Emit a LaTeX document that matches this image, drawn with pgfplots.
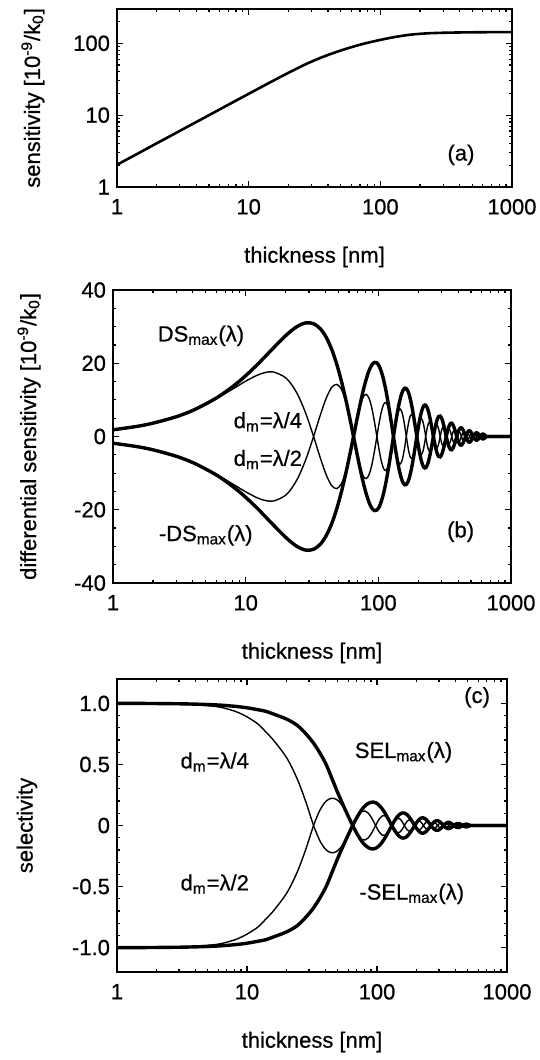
\documentclass[border=0pt]{standalone}
\usepackage{fontspec}
\setmainfont{Liberation Sans}[FakeBold=0.6]
\usepackage{pgfplots}
\pgfplotsset{compat=1.18}
\usepackage{pgfplotstable}

\newcommand\fs{\fontsize{11}{13.2}\selectfont}

% (a) sensitivity vs thickness
\pgfplotstableread{
d S
1 2.04
1.41 2.86
1.9 3.85
2.56 5.16
3.45 6.93
4.65 9.3
6.27 12.5
8.46 16.8
11.4 22.5
15.4 30.2
20.7 40
28 52.5
37.7 66
50.8 80
68.6 94.5
92.5 108
125 121
168 131.5
227 137.5
300 140
413 141.5
600 142.5
1000 143
}\tabA

% (b) DSmax (T) and d_m = lambda/4 (U); the mirrored curves are -T and -U
\pgfplotstableread{
d T U
1 1.830 1.879
1.5 2.736 2.804
2 3.633 3.717
3 5.403 5.495
4.0625 7.245 7.303
6 10.484 10.325
8.125 13.836 13.138
10 16.596 15.103
12.1875 19.557 16.713
14 21.796 17.455
16.25 24.235 17.613
20.3125 27.745 15.843
24.375 30.016 11.806
28.4375 31.024 6.221
32.5 30.798 0
36.5625 29.410 -5.897
40.625 26.973 -10.609
44.6875 23.635 -13.495
48.75 19.569 -14.222
52.8125 14.970 -12.793
56.875 10.040 -9.533
60.9375 4.983 -5.023
65 0 0
69.0625 -4.724 4.762
73.125 -9.022 8.567
77.1875 -12.752 10.897
81.25 -15.802 11.484
85.3125 -18.091 10.330
89.375 -19.572 7.698
93.4375 -20.229 4.056
97.5 -20.081 0
101.5625 -19.176 -3.845
105.625 -17.587 -6.918
109.6875 -15.410 -8.800
113.75 -12.760 -9.273
117.8125 -9.761 -8.342
121.875 -6.546 -6.216
125.9375 -3.249 -3.275
130 0 0
134.0625 3.080 3.105
138.125 5.883 5.586
142.1875 8.315 7.106
146.25 10.303 7.488
150.3125 11.796 6.736
154.375 12.762 5.020
158.4375 13.191 2.645
162.5 13.094 0
166.5625 12.504 -2.507
170.625 11.468 -4.511
174.6875 10.048 -5.737
178.75 8.320 -6.047
182.8125 6.365 -5.439
186.875 4.268 -4.053
190.9375 2.119 -2.136
195 0 0
199.0625 -2.008 2.024
203.125 -3.836 3.642
207.1875 -5.422 4.633
211.25 -6.718 4.883
215.3125 -7.691 4.392
219.375 -8.321 3.273
223.4375 -8.601 1.724
227.5 -8.538 0
231.5625 -8.153 -1.635
235.625 -7.477 -2.941
239.6875 -6.552 -3.741
243.75 -5.425 -3.943
247.8125 -4.150 -3.547
251.875 -2.783 -2.642
255.9375 -1.381 -1.393
260 0 0
268.125 2.501 2.375
276.25 4.381 3.184
284.375 5.426 2.134
292.5 5.567 0
300.625 4.875 -1.918
308.75 3.538 -2.571
316.875 1.815 -1.723
325 0 0
333.125 -1.631 1.549
341.25 -2.857 2.076
349.375 -3.538 1.392
357.5 -3.630 0
365.625 -3.179 -1.251
373.75 -2.307 -1.676
381.875 -1.183 -1.124
390 0 0
398.125 1.063 1.010
406.25 1.863 1.354
414.375 2.307 0.907
422.5 2.367 0
430.625 2.073 -0.815
438.75 1.504 -1.093
446.875 0.772 -0.733
455 0 0
463.125 -0.693 0.658
471.25 -1.215 0.883
479.375 -1.505 0.592
487.5 -1.544 0
495.625 -1.352 -0.532
503.75 -0.981 -0.713
511.875 -0.503 -0.478
520 0 0
528.125 0.452 0.429
536.25 0.793 0.576
544.375 0.981 0.386
552.5 1.007 0
560.625 0.881 -0.347
568.75 0.640 -0.465
576.875 0.328 -0.312
585 0 0
593.125 -0.295 0.280
601.25 -0.517 0.376
609.375 -0.640 0.252
617.5 -0.656 0
625.625 -0.575 -0.226
633.75 -0.417 -0.303
641.875 -0.214 -0.203
650 0 0
750 0 0
1000 0 0
}\tabB

% (c) SELmax (ST) and d_m = lambda/4 (SU); mirrored curves are -ST and -SU
\pgfplotstableread{
d ST SU
1 1.000 1.000
1.5 1.000 0.999
2 0.999 0.998
3 0.997 0.994
4.0625 0.994 0.988
6 0.987 0.972
8.125 0.976 0.935
10 0.964 0.89
12.1875 0.948 0.83
14 0.935 0.765
16.25 0.91 0.69
20.3125 0.87 0.55
24.375 0.82 0.38
28.4375 0.75 0.19
32.5 0.675 0
36.5625 0.59 -0.13
40.625 0.50 -0.20
44.6875 0.394 -0.223
48.75 0.294 -0.214
52.8125 0.208 -0.178
56.875 0.131 -0.1246
60.9375 0.062 -0.0624
65 0 0
69.0625 -0.054 0.0544
73.125 -0.0995 0.0945
77.1875 -0.136 0.1163
81.25 -0.162 0.1178
85.3125 -0.180 0.1028
89.375 -0.190 0.0747
93.4375 -0.192 0.0385
97.5 -0.187 0
101.5625 -0.175 -0.0351
105.625 -0.158 -0.0621
109.6875 -0.136 -0.0778
113.75 -0.111 -0.0808
117.8125 -0.0838 -0.0717
121.875 -0.0555 -0.0527
125.9375 -0.0272 -0.0274
130 0 0
134.0625 0.0253 0.0255
138.125 0.0478 0.0454
142.1875 0.0669 0.0572
146.25 0.0822 0.0598
150.3125 0.0934 0.0533
154.375 0.1003 0.0395
158.4375 0.1030 0.0206
162.5 0.1015 0
166.5625 0.0964 -0.0193
170.625 0.0879 -0.0346
174.6875 0.0766 -0.0437
178.75 0.0631 -0.0459
182.8125 0.0480 -0.0411
186.875 0.0321 -0.0305
190.9375 0.0159 -0.0160
195 0 0
199.0625 -0.0149 0.0150
203.125 -0.0284 0.0270
207.1875 -0.0400 0.0342
211.25 -0.0494 0.0359
215.3125 -0.0564 0.0322
219.375 -0.0608 0.0239
223.4375 -0.0627 0.0126
227.5 -0.0621 0
231.5625 -0.0592 -0.0119
235.625 -0.0542 -0.0213
239.6875 -0.0474 -0.0270
243.75 -0.0391 -0.0284
247.8125 -0.0299 -0.0255
251.875 -0.0200 -0.0190
255.9375 -0.0099 -0.0100
260 0 0
268.125 0.0179 0.0170
276.25 0.0312 0.0227
284.375 0.0386 0.0152
292.5 0.0395 0
300.625 0.0346 -0.0136
308.75 0.0250 -0.0182
316.875 0.0128 -0.0122
325 0 0
333.125 -0.0115 0.0109
341.25 -0.0201 0.0146
349.375 -0.0249 0.0098
357.5 -0.0256 0
365.625 -0.0224 -0.0088
373.75 -0.0162 -0.0118
381.875 -0.0083 -0.0079
390 0 0
398.125 0.0075 0.0071
406.25 0.0131 0.0095
414.375 0.0162 0.0064
422.5 0.0167 0
430.625 0.0146 -0.0057
438.75 0.0106 -0.0077
446.875 0.0054 -0.0052
455 0 0
463.125 -0.0049 0.0046
471.25 -0.0086 0.0062
479.375 -0.0106 0.0042
487.5 -0.0109 0
495.625 -0.0095 -0.0037
503.75 -0.0069 -0.0050
511.875 -0.0035 -0.0034
520 0 0
750 0 0
1000 0 0
}\tabC

\pgfplotsset{
  every axis/.append style={
    scale only axis,
    xmin=1, xmax=1000,
    xtick={1,10,100,1000}, xticklabels={1,10,100,1000},
    minor xtick={2,3,4,5,6,7,8,9,20,30,40,50,60,70,80,90,200,300,400,500,600,700,800,900},
    tick align=inside, major tick length=3pt, minor tick length=1.5pt,
    tick style={black, line width=0.6pt},
    axis line style={line width=1pt},
    ticklabel style={font=\fs},
    xticklabel style={yshift=-2.5pt},
    label style={font=\fs},
    xlabel={thickness [nm]},
    xlabel style={at={(axis description cs:0.5,0)}, anchor=center, yshift=-35pt},
  },
}
\tikzset{
  thickline/.style={black, line width=1.7pt, smooth},
  thinline/.style={black, line width=0.7pt, smooth},
}

\begin{document}
\begin{tikzpicture}
\useasboundingbox (0,0) rectangle (270pt,530pt);

% (a)
\begin{axis}[xmode=log, ymode=log, at={(58.5pt,436.5pt)}, anchor=south west,
  width=197.5pt, height=89pt,
  ymin=1, ymax=300,
  ytick={1,10,100}, yticklabels={1,10,100},
  minor ytick={2,3,4,5,6,7,8,9,20,30,40,50,60,70,80,90,200,300},
  ylabel={sensitivity [10\textsuperscript{-9}/k\textsubscript{0}]},
  ylabel style={at={(axis description cs:-0.213,0.5)}, anchor=center}]
\addplot[black, line width=1.3pt, smooth] table[x=d, y=S] {\tabA};
\node[font=\fs] at (axis cs:410,2.8) {(a)};
\end{axis}

% (b)
\begin{axis}[xmode=log, at={(56.5pt,238.5pt)}, anchor=south west,
  width=199pt, height=146.5pt,
  ymin=-40, ymax=40,
  ytick={-40,-20,0,20,40}, yticklabels={-40,-20,0,20,40},
  minor y tick num=3,
  ylabel={differential sensitivity [10\textsuperscript{-9}/k\textsubscript{0}]},
  ylabel style={at={(axis description cs:-0.211,0.5)}, anchor=center}]
\addplot[thinline] table[x=d, y=U] {\tabB};
\addplot[thinline] table[x=d, y expr=-\thisrow{U}] {\tabB};
\addplot[thickline] table[x=d, y=T] {\tabB};
\addplot[thickline] table[x=d, y expr=-\thisrow{T}] {\tabB};
\node[font=\fs] at (axis cs:4.6,27.5) {DS\textsubscript{max}(λ)};
\node[font=\fs] at (axis cs:5.0,-27) {-DS\textsubscript{max}(λ)};
\node[font=\fs] at (axis cs:14.7,4) {d\textsubscript{m}=λ/4};
\node[font=\fs] at (axis cs:14.7,-6.3) {d\textsubscript{m}=λ/2};
\node[font=\fs] at (axis cs:417,-26) {(b)};
\end{axis}

% (c)
\begin{axis}[xmode=log, at={(58.5pt,44pt)}, anchor=south west,
  width=195pt, height=146.5pt,
  ymin=-1.2, ymax=1.2,
  ytick={-1,-0.5,0,0.5,1}, yticklabels={-1.0,-0.5,0,0.5,1.0},
  minor y tick num=4,
  ylabel={selectivity},
  ylabel style={at={(axis description cs:-0.231,0.5)}, anchor=center}]
\addplot[thinline] table[x=d, y=SU] {\tabC};
\addplot[thinline] table[x=d, y expr=-\thisrow{SU}] {\tabC};
\addplot[thickline] table[x=d, y=ST] {\tabC};
\addplot[thickline] table[x=d, y expr=-\thisrow{ST}] {\tabC};
\node[font=\fs] at (axis cs:5.65,0.52) {d\textsubscript{m}=λ/4};
\node[font=\fs] at (axis cs:5.65,-0.48) {d\textsubscript{m}=λ/2};
\node[font=\fs] at (axis cs:160,0.6) {SEL\textsubscript{max}(λ)};
\node[font=\fs] at (axis cs:185,-0.56) {-SEL\textsubscript{max}(λ)};
\node[font=\fs] at (axis cs:589,1.05) {(c)};
\end{axis}
\end{tikzpicture}
\end{document}
